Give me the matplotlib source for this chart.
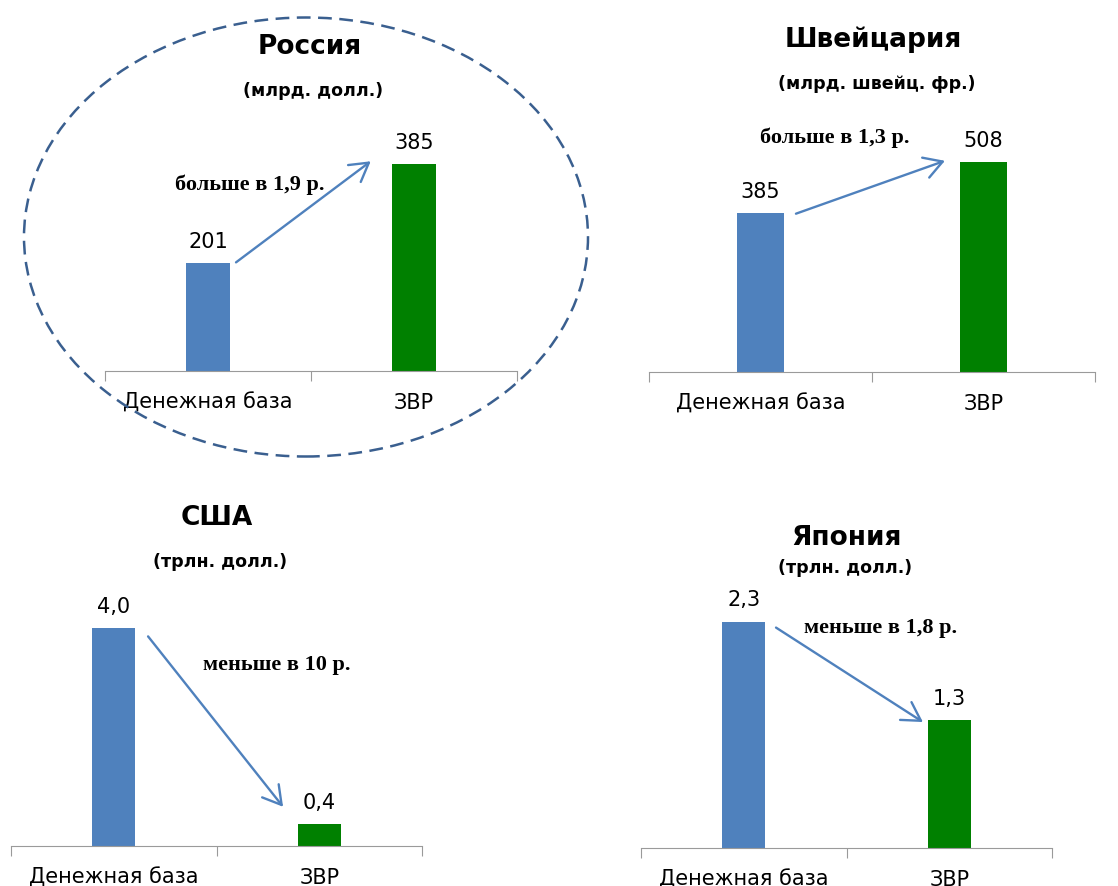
import matplotlib.pyplot as plt
from matplotlib.patches import Ellipse

W, H = 1118, 887

# data
categories = ['Денежная база', 'ЗВР']
russia = [201, 385]
swiss = [385, 508]
usa = [4.0, 0.4]
japan = [2.3, 1.3]

titles = ['Россия', 'Швейцария', 'США', 'Япония']
units = ['(млрд. долл.)', '(млрд. швейц. фр.)', '(трлн. долл.)', '(трлн. долл.)']
notes = ['больше в 1,9 р.', 'больше в 1,3 р.', 'меньше в 10 р.', 'меньше в 1,8 р.']
fmt = ['{:.0f}', '{:.0f}', '{:.1f}', '{:.1f}']

# layout (pixels): axes box, y-limit, title / unit / note centres, arrow ends in data units
panels = [
    dict(vals=russia, box=(105, 130, 517, 372), ymax=450,
         title=(310, 47), unit=(313, 91), note=(250, 185),
         arrow=((0.136, 202), (0.79, 390))),
    dict(vals=swiss, box=(649, 125, 1095, 373), ymax=600,
         title=(873, 40), unit=(877, 84), note=(835, 138),
         arrow=((0.159, 383), (0.827, 511))),
    dict(vals=usa, box=(11, 602, 422, 847), ymax=4.5,
         title=(217, 518), unit=(220, 562), note=(277, 665),
         arrow=((0.167, 3.85), (0.824, 0.72))),
    dict(vals=japan, box=(641, 603, 1052, 849), ymax=2.5,
         title=(846, 538), unit=(845, 568), note=(881, 628),
         arrow=((0.157, 2.24), (0.872, 1.28))),
]

blue = '#4F81BD'
green = '#008000'
serif = ['Liberation Serif', 'DejaVu Serif']

fig = plt.figure(figsize=(W / 100, H / 100), dpi=100)


def fx(x):
    return x / W


def fy(y):
    return 1 - y / H


for i, p in enumerate(panels):
    l, t, r, b = p['box']
    ax = fig.add_axes([fx(l), fy(b), (r - l) / W, (b - t) / H])
    ax.bar([0, 1], p['vals'], width=0.21, color=[blue, green])
    ax.set_xlim(-0.5, 1.5)
    ax.set_ylim(0, p['ymax'])
    for s in ['top', 'right', 'left']:
        ax.spines[s].set_visible(False)
    ax.spines['bottom'].set_color('#9A9A9A')
    ax.set_yticks([])
    ax.set_xticks([-0.5, 0.5, 1.5], labels=['', '', ''])
    ax.tick_params(axis='x', which='major', length=7, color='#9A9A9A')
    ax.set_xticks([0, 1], labels=categories, minor=True)
    ax.tick_params(axis='x', which='minor', length=0, pad=15, labelsize=15)
    for xi, v in enumerate(p['vals']):
        ax.annotate(fmt[i].format(v).replace('.', ','), (xi, v),
                    xytext=(0, 16), textcoords='offset points',
                    ha='center', va='center', fontsize=15)
    (x0, y0), (x1, y1) = p['arrow']
    ax.annotate('', xy=(x1, y1), xytext=(x0, y0),
                arrowprops=dict(arrowstyle='->, head_length=0.65, head_width=0.38',
                                color=blue, lw=1.7, mutation_scale=20,
                                shrinkA=0, shrinkB=0))
    fig.text(fx(p['title'][0]), fy(p['title'][1]), titles[i], ha='center', va='center',
             fontsize=19, fontweight='bold')
    fig.text(fx(p['unit'][0]), fy(p['unit'][1]), units[i], ha='center', va='center',
             fontsize=12.5, fontweight='bold')
    fig.text(fx(p['note'][0]), fy(p['note'][1]), notes[i], ha='center', va='center',
             fontsize=16, fontweight='bold', family=serif)

# dashed ellipse around Russia
fig.add_artist(Ellipse((fx(306), fy(238)), 564 / W, 439 / H, transform=fig.transFigure,
                       fill=False, edgecolor='#3A5F8F', lw=1.8,
                       linestyle=(0, (5.5, 3))))

fig.savefig('out.png', dpi=100)
